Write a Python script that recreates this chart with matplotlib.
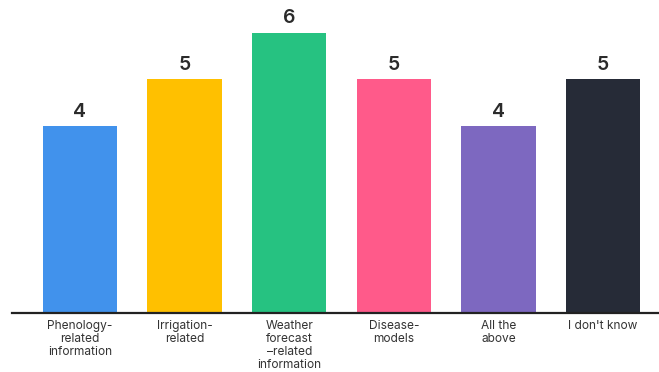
import matplotlib
matplotlib.use("Agg")
import matplotlib.pyplot as plt

categories = [
    "Phenology-\nrelated\ninformation",
    "Irrigation-\nrelated",
    "Weather\nforecast\n\u2013related\ninformation",
    "Disease-\nmodels",
    "All the\nabove",
    "I don't know",
]
values = [4, 5, 6, 5, 4, 5]
colors = ["#4192EC", "#FFC000", "#26C281", "#FF5A8A", "#7D68C0", "#262B37"]

plt.rcParams["font.family"] = ["Inter", "DejaVu Sans"]

fig = plt.figure(figsize=(6.59, 3.72), dpi=100)
ax = fig.add_axes([12 / 659, 59 / 372, 1 - 12 / 659, 313 / 372])

x = list(range(len(values)))
ax.bar(x, values, width=0.71, color=colors, zorder=2)

for xi, v in zip(x, values):
    ax.text(xi, v + 0.12, str(v), ha="center", va="bottom",
            fontsize=14, fontweight="semibold", color="#2b2b2b")

ax.set_xlim(-0.65, 5.535)
ax.set_ylim(0, 6.7)

for s in ["top", "right", "left"]:
    ax.spines[s].set_visible(False)
ax.spines["bottom"].set_color("#222222")
ax.spines["bottom"].set_linewidth(1.6)

ax.set_yticks([])
ax.set_xticks(x)
ax.set_xticklabels(categories, fontsize=8.6, color="#333333", linespacing=1.1)
ax.tick_params(axis="x", length=0, pad=5)

fig.savefig("out.png", dpi=100)
